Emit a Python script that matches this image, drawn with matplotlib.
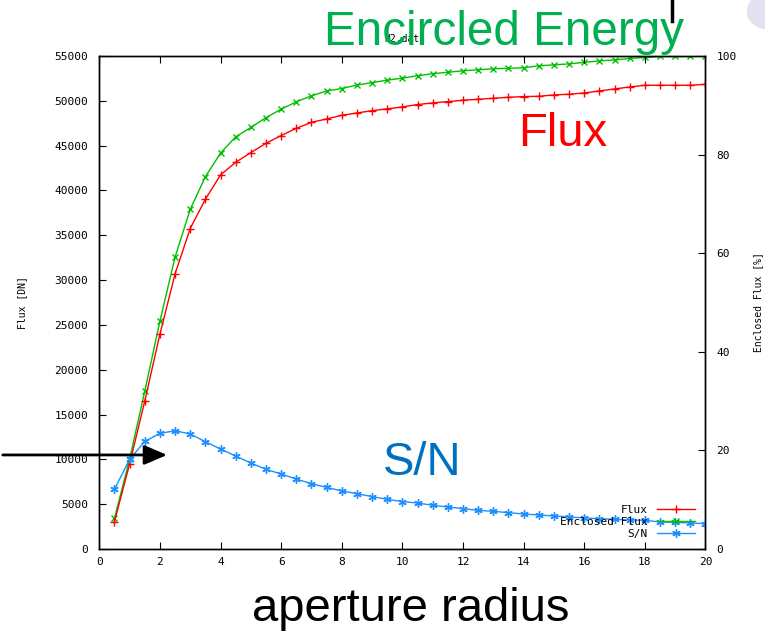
import matplotlib.pyplot as plt
import numpy as np
from matplotlib.patches import Circle

# aperture radius sampled every 0.5 px
radius = np.arange(1, 41) * 0.5

flux = [3050, 9480, 16500, 23970, 30700, 35750, 39020, 41730, 43140, 44220,
        45260, 46120, 46930, 47600, 47970, 48380, 48640, 48900, 49100, 49310,
        49580, 49760, 49910, 50060, 50170, 50280, 50390, 50470, 50500, 50650,
        50730, 50870, 51100, 51320, 51540, 51730, 51730, 51730, 51730, 51840]

enclosed = [6.2, 18.2, 32.0, 46.2, 59.2, 68.9, 75.5, 80.3, 83.6, 85.5,
            87.5, 89.2, 90.7, 91.9, 92.9, 93.4, 94.1, 94.6, 95.1, 95.5,
            96.0, 96.4, 96.7, 97.0, 97.2, 97.4, 97.5, 97.6, 98.0, 98.2,
            98.4, 98.7, 99.0, 99.2, 99.5, 99.7, 99.9, 99.9, 99.9, 100.0]

snr = [6650, 9990, 12000, 12890, 13190, 12820, 11970, 11150, 10370, 9590,
       8880, 8360, 7800, 7280, 6870, 6470, 6170, 5840, 5540, 5280,
       5130, 4870, 4680, 4500, 4310, 4200, 4050, 3900, 3790, 3680,
       3570, 3460, 3380, 3310, 3230, 3200, 3010, 2970, 2900, 2820]

x_ticks = list(range(0, 21, 2))
flux_ticks = list(range(0, 55001, 5000))
pct_ticks = list(range(0, 101, 20))

MONO = "DejaVu Sans Mono"
SANS = "Liberation Sans"

fig = plt.figure(figsize=(7.65, 6.31), dpi=100)
ax = fig.add_axes([0.1298, 0.1300, 0.7924, 0.7813])
ax2 = ax.twinx()

ln_flux, = ax.plot(radius, flux, color="#ff0000", lw=1, marker="+", ms=6, mew=1, label="Flux")
ln_enc, = ax2.plot(radius, enclosed, color="#00c000", lw=1, marker="x", ms=5, mew=1, label="Enclosed Flux")
ln_snr, = ax.plot(radius, snr, color="#1e8fff", lw=1, marker=(6, 2, 0), ms=6, mew=1, label="S/N")

ax.set_xlim(0, 20)
ax.set_ylim(0, 55000)
ax2.set_ylim(0, 100)
ax.set_xticks(x_ticks)
ax.set_yticks(flux_ticks)
ax2.set_yticks(pct_ticks)

for a in (ax, ax2):
    for sp in a.spines.values():
        sp.set_linewidth(1)
        sp.set_color("black")
ax.tick_params(axis="x", direction="in", top=True, length=5, labelsize=8, pad=6)
ax.tick_params(axis="y", direction="in", length=5, labelsize=8, pad=8)
ax2.tick_params(axis="y", direction="in", length=5, labelsize=8, pad=8)
for lab in ax.get_xticklabels() + ax.get_yticklabels() + ax2.get_yticklabels():
    lab.set_family(MONO)

ax.set_ylabel("Flux [DN]", family=MONO, fontsize=7, labelpad=20)
ax2.set_ylabel("Enclosed Flux [%]", family=MONO, fontsize=7, labelpad=12)
ax.set_title("N2.dat", family=MONO, fontsize=7, pad=10)

leg = ax.legend(handles=[ln_flux, ln_enc, ln_snr], loc="lower right", frameon=False,
                markerfirst=False, prop={"family": MONO, "size": 8},
                handlelength=3.5, labelspacing=0.2, borderaxespad=0.5)
ax.set_zorder(ax2.get_zorder() + 1)
ax.patch.set_visible(False)

# slide annotations
fig.text(0.659, 0.948, "Encircled Energy", color="#00b050", fontsize=34.3,
         family=SANS, ha="center", va="center")
ax.text(0.765, 0.841, "Flux", transform=ax.transAxes, color="#ff0000", fontsize=34,
        family=SANS, ha="center", va="center")
ax.text(0.533, 0.175, "S/N", transform=ax.transAxes, color="#0070c0", fontsize=34,
        family=SANS, ha="center", va="center")
fig.text(0.537, 0.035, "aperture radius", color="black", fontsize=34,
         family=SANS, ha="center", va="center")

fig.add_artist(plt.Line2D([0.878, 0.878], [1.0, 0.966], color="black", lw=2.5,
                          transform=fig.transFigure))
fig.add_artist(Circle((1.005, 0.982), 0.028, transform=fig.transFigure,
                      color="#e2e2f2", zorder=0))
ax.annotate("", xy=(0.222, 0.279), xytext=(0.0, 0.279),
            xycoords="figure fraction", textcoords="figure fraction",
            arrowprops=dict(arrowstyle="-|>,head_length=1.4,head_width=0.6",
                            color="black", lw=2))

fig.savefig("out.png", dpi=100)
